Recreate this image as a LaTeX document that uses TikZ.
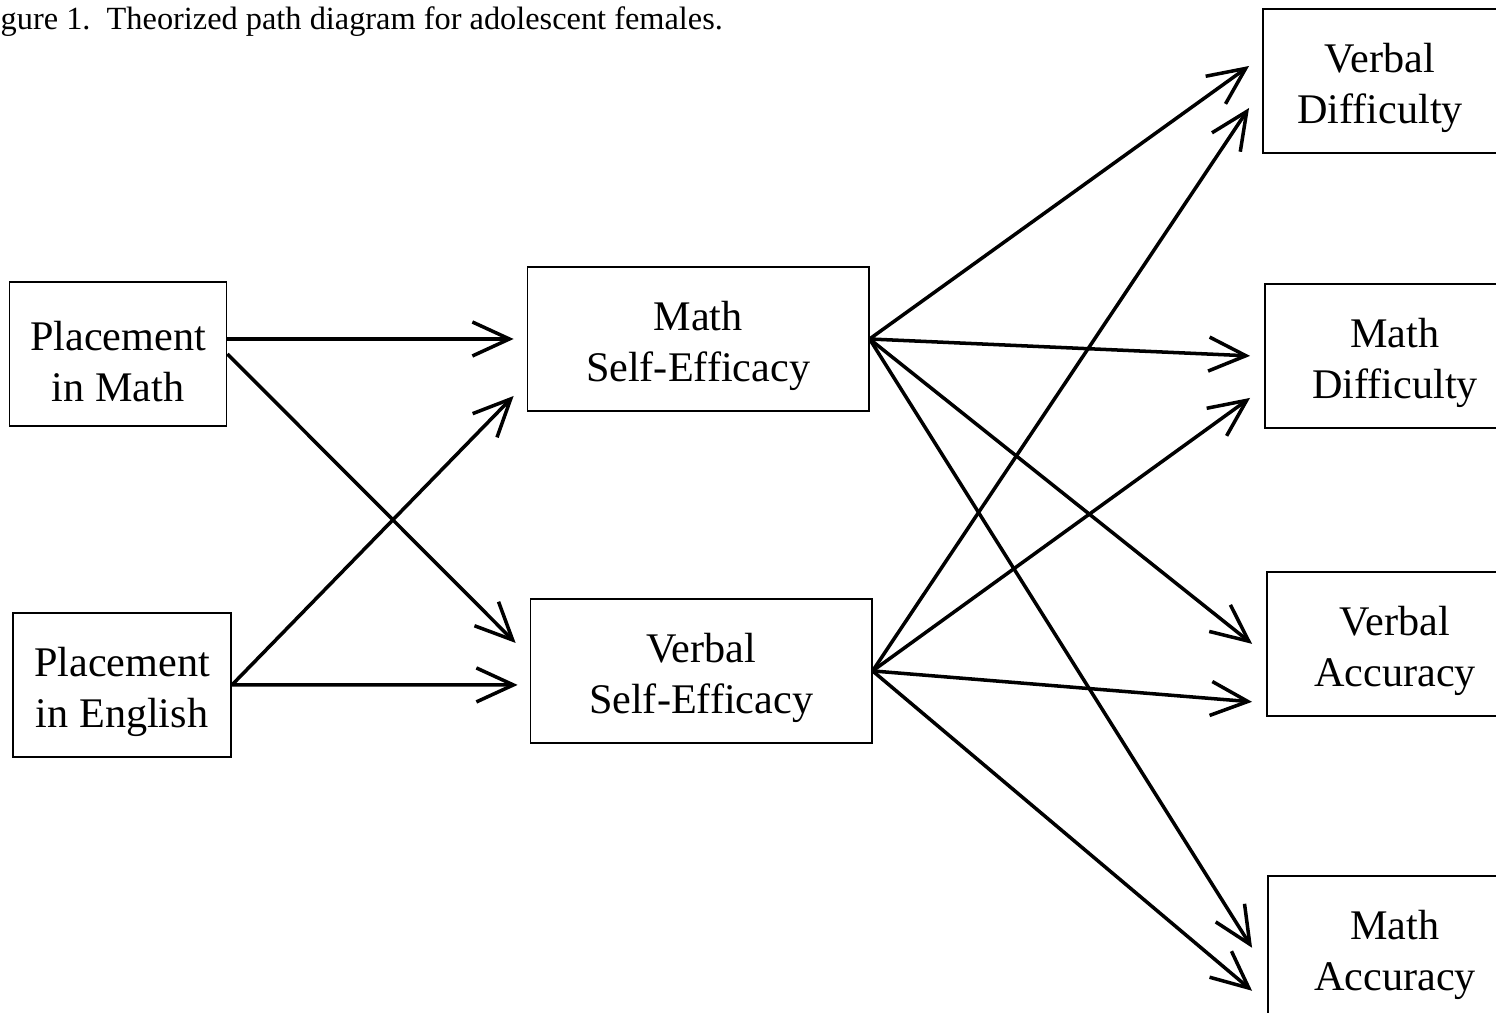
\documentclass[tikz,border=0pt]{standalone}
\usepackage{fontspec}
\setmainfont{Liberation Serif}
\usetikzlibrary{positioning,arrows.meta}

\begin{document}
\begin{tikzpicture}[
    x=0.01cm, y=-0.01cm,
    box/.style={draw, line width=0.5pt, align=center, minimum height=14.4mm, inner sep=0pt, font=\fontsize{12}{14.5}\selectfont, execute at begin node=\rule{0pt}{27pt}},
    arr/.style={-{Straight Barb[length=3.7mm,width=3.4mm]}, line width=1pt}
]
\useasboundingbox (0,0) rectangle (1496,1013);
\clip (0,0) rectangle (1496,1013);
\node[anchor=base west, inner sep=0pt, font=\fontsize{9.2}{11}\selectfont] (caption) at (-27,30) {Figure 1.\ \ Theorized path diagram for adolescent females.};
\node[box, minimum width=21.7mm] (pmath) at (118,354) {Placement\\ in Math};
\node[box, minimum width=21.8mm, below=18.5mm of pmath, xshift=0.4mm] (peng) {Placement\\ in English};
\node[box, minimum width=34.1mm, right=29.9mm of pmath, yshift=1.5mm] (mse) {Math\\ Self-Efficacy};
\node[box, minimum width=34.1mm, below=18.6mm of mse, xshift=0.3mm] (vse) {Verbal\\ Self-Efficacy};
\node[box, minimum width=23.4mm] (vdiff) at (1380,81) {Verbal\\ Difficulty};
\node[box, minimum width=26mm, below=12.9mm of vdiff, xshift=1.5mm] (mdiff) {Math\\ Difficulty};
\node[box, minimum width=25.6mm, below=14.2mm of mdiff] (vacc) {Verbal\\ Accuracy};
\node[box, minimum width=25.4mm, below=15.8mm of vacc] (macc) {Math\\ Accuracy};
\draw[arr] (pmath.east |- mse.west) -- ([shift={(-13,0)}]mse.west);
\draw[arr] (pmath.east) -- ([shift={(-14,-28)}]vse.west);
\draw[arr] (peng.east) -- ([shift={(-13,57)}]mse.west);
\draw[arr] (peng.east) -- ([shift={(-12,14)}]vse.west);
\draw[arr] (mse.east) -- ([shift={(-13,-15)}]vdiff.west);
\draw[arr] (mse.east) -- ([shift={(-14,0)}]mdiff.west);
\draw[arr] (mse.east) -- ([shift={(-14,0)}]vacc.west);
\draw[arr] (mse.east) -- ([shift={(-15,0)}]macc.west);
\draw[arr] (vse.east) -- ([shift={(-13,27)}]vdiff.west);
\draw[arr] (vse.east) -- ([shift={(-14,42)}]mdiff.west);
\draw[arr] (vse.east) -- ([shift={(-14,58)}]vacc.west);
\draw[arr] (vse.east) -- ([shift={(-15,43)}]macc.west);
\end{tikzpicture}
\end{document}
